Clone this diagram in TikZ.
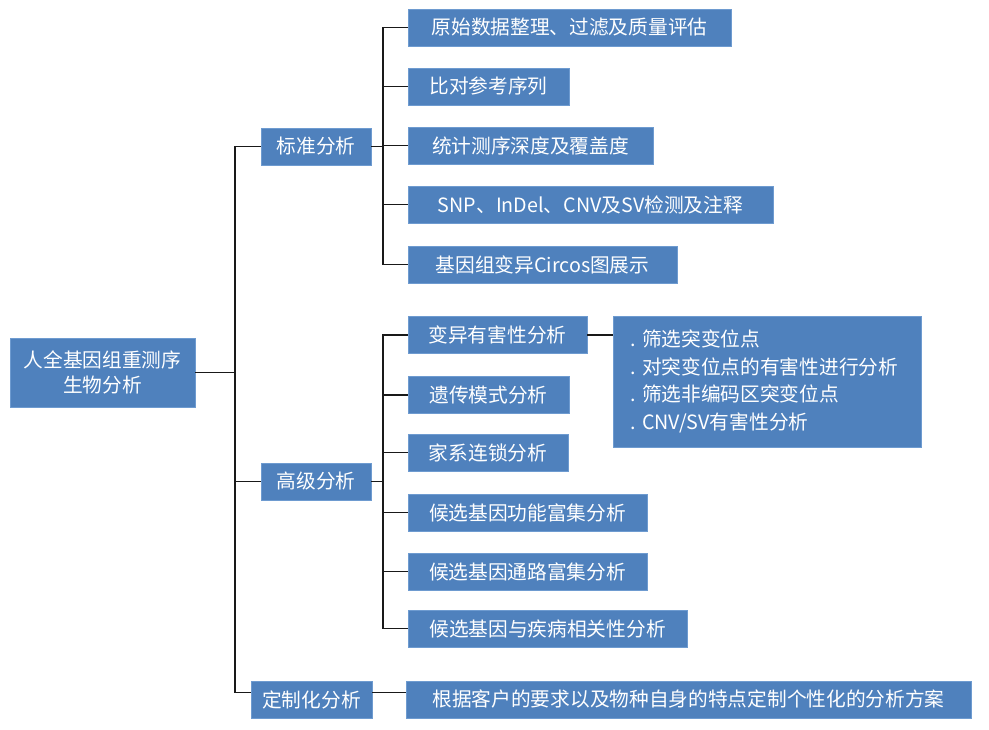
\documentclass[tikz,border=0pt]{standalone}
\usepackage{fontspec}
\setmainfont{Noto Sans CJK SC}
\usetikzlibrary{calc}
\definecolor{boxblue}{RGB}{79,129,189}
\definecolor{edgeblue}{RGB}{110,155,208}
\definecolor{linegray}{RGB}{25,25,25}
\tikzset{
  box/.style={fill=boxblue, draw=edgeblue, line width=0.6pt, text=white, inner sep=0pt,
    minimum height=37pt, font=\fontsize{19.7}{25}\selectfont},
  conn/.style={draw=linegray, line width=1.7pt}
}
\begin{document}
\begin{tikzpicture}[x=1pt,y=-1pt]
\useasboundingbox (0,0) rectangle (989,730);
% root and level 1
\node[box, minimum width=185pt, minimum height=69pt, align=center] (root) at (102.5,372.5) {人全基因组重测序\\生物分析};
\node[box, minimum width=110pt] (std) at (316,146.5) {标准分析};
\node[box, minimum width=110pt] (adv) at (316,481.5) {高级分析};
\node[box, minimum width=121pt] (cust) at (311.5,699.5) {定制化分析};
% standard children
\node[box, minimum width=323pt] (c1) at (569.5,27.5) {原始数据整理、过滤及质量评估};
\node[box, minimum width=161pt] (c2) at (488.5,86.5) {比对参考序列};
\node[box, minimum width=245pt] (c3) at (530.5,145.5) {统计测序深度及覆盖度};
\node[box, minimum width=365pt] (c4) at (590.5,204.5) {SNP、InDel、CNV及SV检测及注释};
\node[box, minimum width=269pt] (c5) at (542.5,264.5) {基因组变异Circos图展示};
% advanced children
\node[box, minimum width=179pt] (a1) at (497.5,335) {变异有害性分析};
\node[box, minimum width=161pt] (a2) at (488.5,395) {遗传模式分析};
\node[box, minimum width=160pt] (a3) at (488,452.5) {家系连锁分析};
\node[box, minimum width=239pt] (a4) at (527.5,512.5) {候选基因功能富集分析};
\node[box, minimum width=239pt] (a5) at (527.5,571.5) {候选基因通路富集分析};
\node[box, minimum width=279pt] (a6) at (547.5,628.5) {候选基因与疾病相关性分析};
\node[box, minimum width=308pt, minimum height=131pt, text width=274pt, align=left,
  font=\fontsize{19.7}{27.7}\selectfont] (det) at (767,381.5)
  {.\ 筛选突变位点\\.\ 对突变位点的有害性进行分析\\.\ 筛选非编码区突变位点\\.\ CNV/SV有害性分析};
% custom child
\node[box, minimum width=565pt] (k1) at (688.5,699.5) {根据客户的要求以及物种自身的特点定制个性化的分析方案};
% trunk coordinates
\coordinate (T) at (235,0);
\coordinate (S) at (383,0);
\coordinate (custl) at ($(cust.west)+(0,-7)$);
\coordinate (custr) at ($(cust.east)+(0,-7)$);
% main trunk
\draw[conn] (root.east) -- (root.east -| T);
\draw[conn] (std.west) -- (std.west -| T) -- (custl -| T) -- (custl);
\draw[conn] (adv.west) -- (adv.west -| T);
% standard trunk
\draw[conn] (std.east) -- (std.east -| S);
\draw[conn] (c1.west) -- (c1.west -| S) -- (c5.west -| S) -- (c5.west);
\draw[conn] (c2.west) -- (c2.west -| S);
\draw[conn] (c3.west) -- (c3.west -| S);
\draw[conn] (c4.west) -- (c4.west -| S);
% advanced trunk
\draw[conn] (adv.east) -- (adv.east -| S);
\draw[conn] (a1.west) -- (a1.west -| S) -- (a6.west -| S) -- (a6.west);
\draw[conn] (a2.west) -- (a2.west -| S);
\draw[conn] (a3.west) -- (a3.west -| S);
\draw[conn] (a4.west) -- (a4.west -| S);
\draw[conn] (a5.west) -- (a5.west -| S);
\draw[conn] (a1.east) -- (a1.east -| det.west);
% custom
\draw[conn] (custr) -- (custr -| k1.west);
\end{tikzpicture}
\end{document}
